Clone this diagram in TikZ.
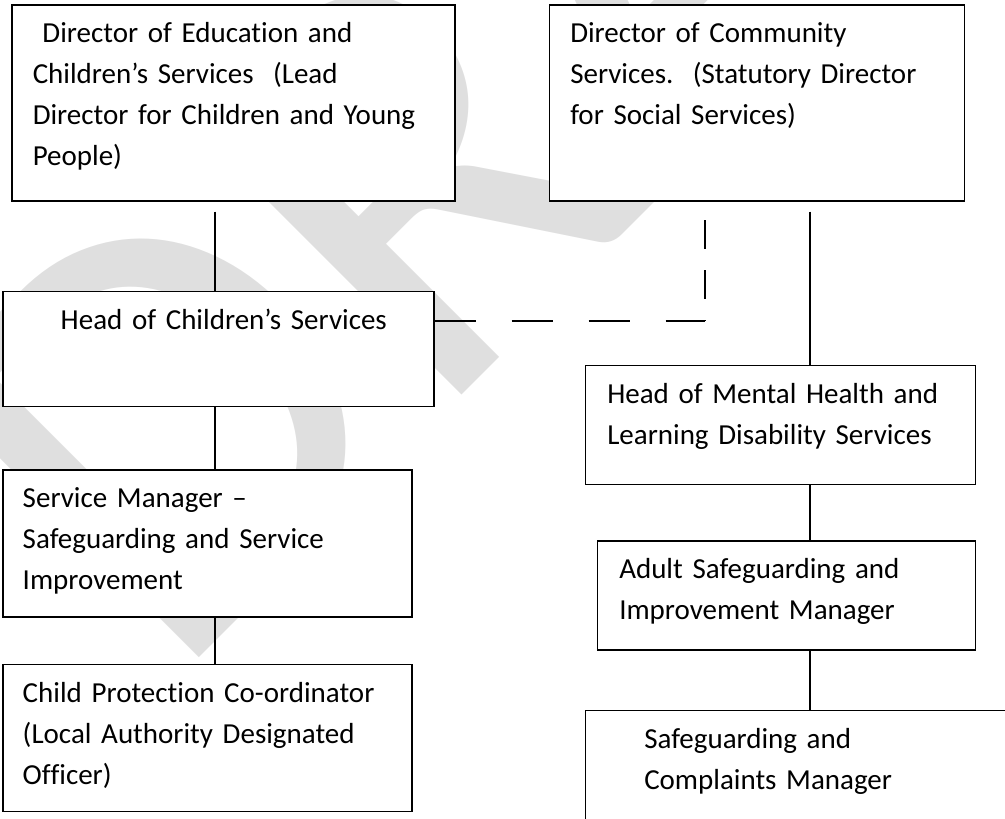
\documentclass[tikz,border=0pt]{standalone}
\usepackage{fontspec}
\setmainfont{Carlito}[Ligatures={NoCommon}]
\usetikzlibrary{positioning}

\begin{document}
\begin{tikzpicture}[
				x=1pt, y=-1pt,
				box/.style={draw, fill=white, line width=1.5pt, inner sep=0pt, align=left, anchor=north west,
					font=\fontsize{29}{41}\selectfont, text height=38pt,
					execute at begin node={\leftskip=#1\relax}},
				box/.default=20pt,
				link/.style={line width=1.2pt},
				dashlink/.style={link, dash pattern=on 41pt off 36pt},
				watermark/.style={text=gray!25, inner sep=0pt, font=\fontsize{600}{600}\selectfont},
			]
				\useasboundingbox (0,0) rectangle (1005,819);
				\node[watermark, rotate=45, anchor=base west] (draft) at (170,687) {DRAFT};

				\node[box=21pt, text width=443pt, text depth=158pt] (dirchild) at (11,4)
					{\ Director of Education and\\Children’s Services~~(Lead\\Director for Children and Young\\People)};
				\node[box=21pt, text width=415pt, text depth=158pt, right=93pt of dirchild.north east, anchor=north west] (dircomm)
					{Director of Community\\Services.~~(Statutory Director\\for Social Services)};
				\node[box=58pt, text width=431pt, text depth=77pt, below right=89pt and -9pt of dirchild.south west] (headchild)
					{Head of Children’s Services};
				\node[box, text width=409pt, text depth=109pt, below right=62pt and 0pt of headchild.south west] (svcmgr)
					{Service Manager –\\Safeguarding and Service\\Improvement};
				\node[box, text width=409pt, text depth=109pt, below right=46pt and 0pt of svcmgr.south west] (childprot)
					{Child Protection Co-ordinator\\(Local Authority Designated\\Officer)};
				\node[box=22pt, text width=390pt, text depth=81pt, below right=163pt and 36pt of dircomm.south west] (headmh)
					{Head of Mental Health and\\Learning Disability Services};
				\node[box=22pt, text width=378pt, text depth=71pt, below right=55pt and 12pt of headmh.south west] (adultsg)
					{Adult Safeguarding and\\Improvement Manager};
				\node[box=59pt, text width=420pt, text depth=102pt, below right=59pt and -12pt of adultsg.south west] (sgcomp)
					{Safeguarding and\\Complaints Manager};

				\coordinate (lspine) at (215,0);
				\coordinate (rspine) at (810,0);
				\coordinate (elbow) at (705,321);
				\coordinate (dashtop) at (705,220);

				\draw[link] ([yshift=-10pt]lspine |- dirchild.south) -- (lspine |- headchild.north);
				\draw[link] (lspine |- headchild.south) -- (lspine |- svcmgr.north);
				\draw[link] (lspine |- svcmgr.south) -- (lspine |- childprot.north);

				\draw[link] ([yshift=-10pt]rspine |- dircomm.south) -- (rspine |- headmh.north);
				\draw[link] (rspine |- headmh.south) -- (rspine |- adultsg.north);
				\draw[link] (rspine |- adultsg.south) -- (rspine |- sgcomp.north);

				\draw[dashlink] (elbow -| headchild.east) -- (elbow);
				\draw[link, dash pattern=on 29pt off 21pt] (dashtop) -- (elbow);
			\end{tikzpicture}
\end{document}
